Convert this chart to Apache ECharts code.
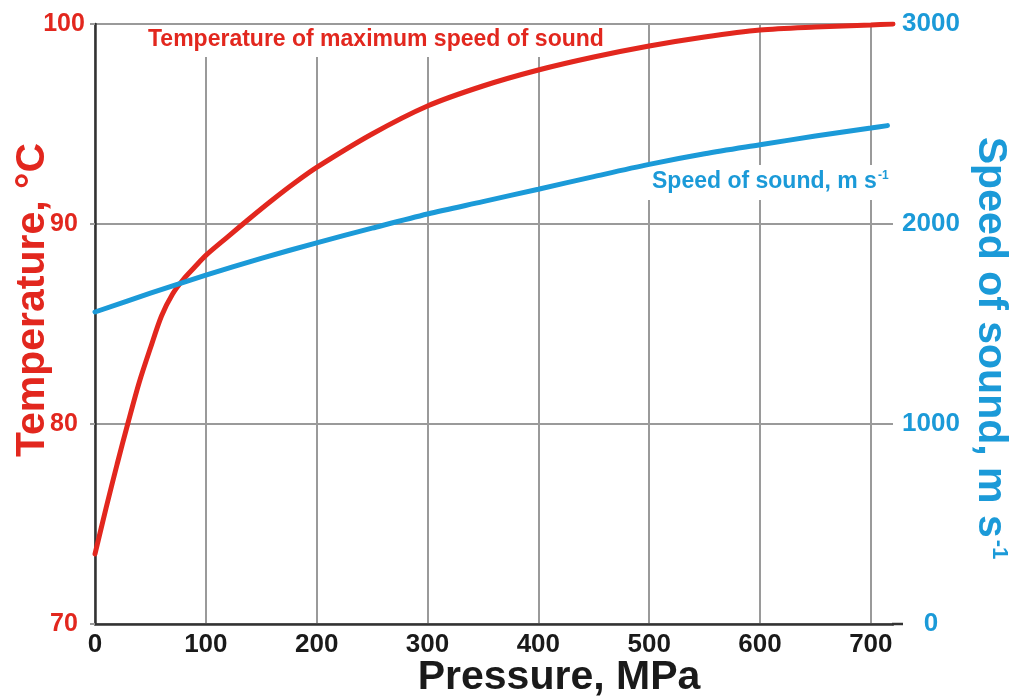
<!DOCTYPE html>
<html>
<head>
<meta charset="utf-8">
<script src="https://cdn.jsdelivr.net/npm/echarts@6/dist/echarts.min.js"></script>
<style>
html,body{margin:0;padding:0;background:#fff;}
#chart{width:1013px;height:700px;}
</style>
</head>
<body>
<div id="chart"></div>
<script>
// Temperature of maximum speed of sound (°C) vs pressure (MPa)
var tempPressure = [0,10,20,30,40,50,60,70,80,90,100,120,140,160,180,200,250,300,350,400,450,500,550,600,650,700,720];
var temperature  = [73.5,75.8,78.0,80.1,82.1,83.8,85.4,86.5,87.25,87.85,88.43,89.37,90.3,91.2,92.05,92.83,94.5,95.9,96.9,97.7,98.35,98.9,99.35,99.7,99.85,99.95,100];
// Speed of sound (m/s) vs pressure (MPa)
var speedPressure = [0,50,100,150,200,250,300,350,400,450,500,550,600,650,700,715];
var speed         = [1560,1654,1744,1828,1906,1979,2050,2112,2174,2237,2298,2351,2396,2440,2480,2492];

var xTicks = [0,100,200,300,400,500,600,700];
var tempTicks = [70,80,90,100];
var speedTicks = [0,1000,2000,3000];

var RED = '#e2271e';
var BLUE = '#1b9ad8';
var FONT = '"Liberation Sans", Arial, Helvetica, sans-serif';

function pairs(xs, ys){ return xs.map(function(x,i){ return [x, ys[i]]; }); }

var chart = echarts.init(document.getElementById('chart'), null, {renderer:'canvas'});
var option = {
  animation: false,
  backgroundColor: '#fff',
  grid: {left: 95, top: 24, right: 120, bottom: 76, containLabel: false},
  xAxis: {
    type: 'value', min: 0, max: 720, interval: 100,
    axisLine: {show: true, onZero: false, lineStyle: {color: '#333', width: 2.5}},
    axisTick: {show: false},
    splitLine: {show: true, showMaxLine: false, lineStyle: {color: '#9a9a9a', width: 2}},
    axisLabel: {
      color: '#1a1a1a', fontFamily: FONT, fontWeight: 'bold', fontSize: 26, margin: 8,
      showMaxLabel: false,
      formatter: function(v){ return xTicks.indexOf(v) >= 0 ? String(v) : ''; }
    }
  },
  yAxis: [{
    type: 'value', min: 70, max: 100, interval: 10, position: 'left',
    axisLine: {show: true, lineStyle: {color: '#333', width: 2.5}},
    axisTick: {show: true, length: 5, lineStyle: {color: '#9a9a9a', width: 2}},
    splitLine: {show: true, lineStyle: {color: '#9a9a9a', width: 2}},
    axisLabel: {
      color: RED, fontFamily: FONT, fontWeight: 'bold', fontSize: 25, margin: 31, align: 'center',
      formatter: function(v){ return tempTicks.indexOf(v) >= 0 ? String(v) : ''; }
    }
  }, {
    type: 'value', min: 0, max: 3000, interval: 1000, position: 'right',
    axisLine: {show: false},
    axisTick: {show: false},
    splitLine: {show: false},
    axisLabel: {
      color: BLUE, fontFamily: FONT, fontWeight: 'bold', fontSize: 26, margin: 38, align: 'center',
      formatter: function(v){ return speedTicks.indexOf(v) >= 0 ? String(v) : ''; }
    }
  }],
  series: [{
    name: 'Temperature of maximum speed of sound',
    type: 'line', yAxisIndex: 0, z: 3,
    data: pairs(tempPressure, temperature),
    smooth: 0.3, showSymbol: false,
    lineStyle: {color: RED, width: 5, cap: 'round'}
  }, {
    name: 'Speed of sound',
    type: 'line', yAxisIndex: 1, z: 3,
    data: pairs(speedPressure, speed),
    smooth: 0.3, showSymbol: false,
    lineStyle: {color: BLUE, width: 5, cap: 'round'}
  }],
  graphic: [
    {
      type: 'line', z: 1,
      shape: {x1: 892, y1: 624, x2: 903, y2: 624},
      style: {stroke: '#333', lineWidth: 2.5}
    },
    {
      type: 'text', left: 140, top: 25, z: 1,
      style: {
        text: 'Temperature of maximum speed of sound',
        font: 'bold 23px ' + FONT, fill: RED,
        backgroundColor: '#fff', padding: [3, 8, 6, 8]
      }
    },
    {
      type: 'text', left: 646, top: 165, z: 1,
      style: {
        text: '{a|Speed of sound, m s}{b|-1}',
        fill: BLUE,
        backgroundColor: '#fff', padding: [5, 6, 7, 6],
        rich: {
          a: {font: 'bold 23px ' + FONT, fill: BLUE},
          b: {font: 'bold 12px ' + FONT, fill: BLUE, verticalAlign: 'top', padding: [0,0,10,1]}
        }
      }
    },
    {
      type: 'text', x: 33, y: 300, rotation: Math.PI / 2, z: 5,
      style: {
        text: 'Temperature, °C', font: 'bold 41px ' + FONT, fill: RED,
        textAlign: 'center', textVerticalAlign: 'middle'
      }
    },
    {
      type: 'text', x: 990, y: 348, rotation: -Math.PI / 2, z: 5,
      style: {
        text: '{a|Speed of sound, m s}{b|-1}',
        fill: BLUE, textAlign: 'center', textVerticalAlign: 'middle',
        rich: {
          a: {font: 'bold 41px ' + FONT, fill: BLUE},
          b: {font: 'bold 22px ' + FONT, fill: BLUE, verticalAlign: 'top', padding: [0,0,18,2]}
        }
      }
    },
    {
      type: 'text', x: 559, y: 678, z: 5,
      style: {
        text: 'Pressure, MPa', font: 'bold 41px ' + FONT, fill: '#1a1a1a',
        textAlign: 'center', textVerticalAlign: 'middle'
      }
    }
  ]
};
chart.setOption(option);
</script>
</body>
</html>
